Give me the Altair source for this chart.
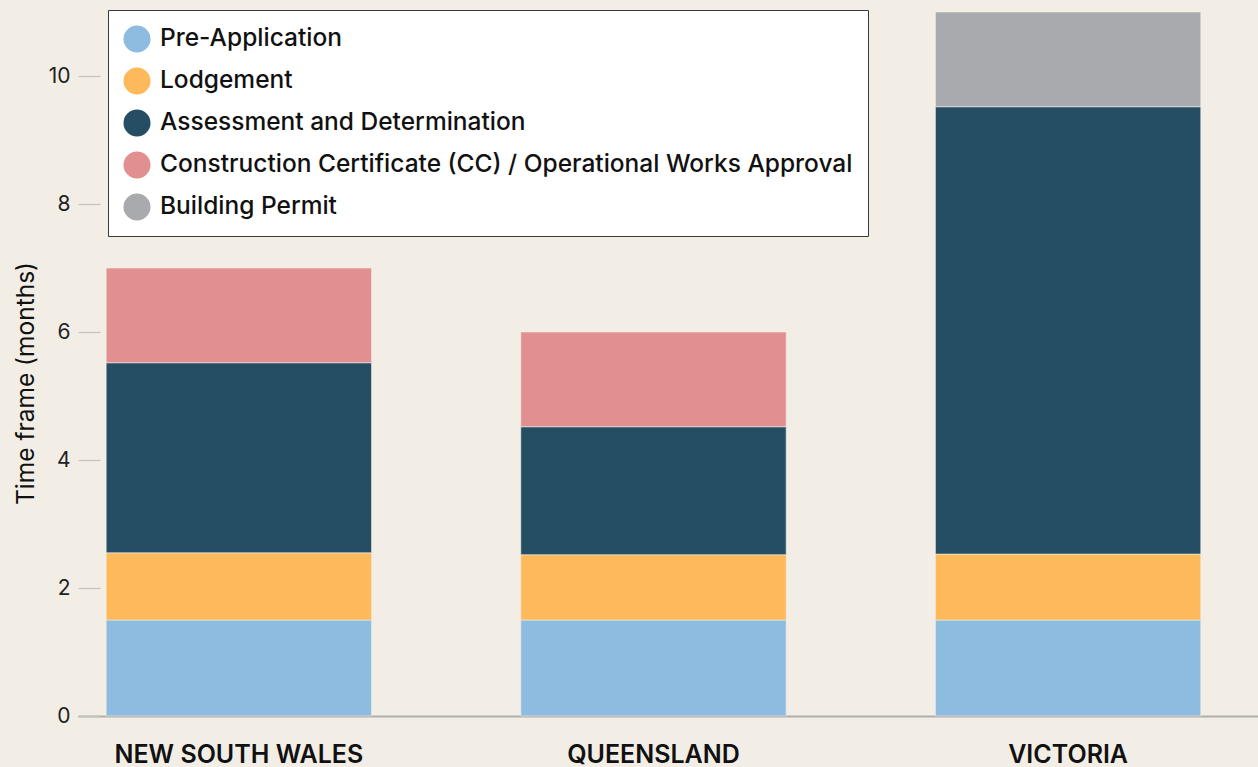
import altair as alt
import pandas as pd

states = ["NEW SOUTH WALES", "QUEENSLAND", "VICTORIA"]
stages = [
    "Pre-Application",
    "Lodgement",
    "Assessment and Determination",
    "Construction Certificate (CC) / Operational Works Approval",
    "Building Permit",
]
colors = ["#8ebbe0", "#fdb95a", "#254d63", "#e18f8f", "#a9aaad"]

nsw_values = [1.5, 1.05, 2.97, 1.48, 0.0]
qld_values = [1.5, 1.02, 2.0, 1.48, 0.0]
vic_values = [1.5, 1.03, 6.99, 0.0, 1.48]

rows = []
for st, vals in zip(states, [nsw_values, qld_values, vic_values]):
    for i, (stage, v) in enumerate(zip(stages, vals)):
        if v > 0:
            rows.append({"state": st, "stage": stage, "months": v, "order": i})
df = pd.DataFrame(rows)

FONT = "Inter"
BG = "#f2eee6"

bars = alt.Chart(df).mark_bar(stroke=BG, strokeWidth=0.6).encode(
    x=alt.X(
        "state:N",
        sort=states,
        title=None,
        scale=alt.Scale(paddingInner=0.36, paddingOuter=0.103, align=0.33),
        axis=alt.Axis(
            labelAngle=0,
            labelFont=FONT,
            labelFontSize=25,
            labelFontWeight=600,
            labelColor="#111111",
            labelPadding=26,
            labelLimit=0,
            ticks=False,
            domainColor="#b0adaa",
            domainWidth=2,
        ),
    ),
    y=alt.Y(
        "sum(months):Q",
        title="Time frame (months)",
        scale=alt.Scale(domain=[0, 11], nice=False),
        axis=alt.Axis(
            values=[0, 2, 4, 6, 8, 10],
            grid=False,
            domain=False,
            offset=-22,
            tickSize=22,
            tickColor="#c4c1bc",
            tickWidth=1.2,
            labelFont=FONT,
            labelFontSize=21,
            labelFontWeight=400,
            labelColor="#222222",
            labelPadding=8,
            titleFont=FONT,
            titleFontSize=24.5,
            titleFontWeight=400,
            titleColor="#111111",
            titlePadding=10,
            titleY=371,
        ),
    ),
    color=alt.Color(
        "stage:N",
        sort=stages,
        scale=alt.Scale(domain=stages, range=colors),
        legend=alt.Legend(
            title=None,
            orient="none",
            legendX=30,
            legendY=-2,
            fillColor="#ffffff",
            strokeColor="#3a3a3a",
            padding=15,
            symbolType="circle",
            symbolSize=730,
            symbolStrokeWidth=0,
            labelFont=FONT,
            labelFontSize=24.5,
            labelFontWeight=500,
            labelColor="#111111",
            labelOffset=9,
            rowPadding=14,
            labelLimit=900,
        ),
    ),
    order=alt.Order("order:Q", sort="ascending"),
)

chart = bars.properties(
    width=1180,
    height=704,
    background=BG,
    padding={"left": 78, "top": 12, "right": 0, "bottom": 51},
    autosize=alt.AutoSizeParams(type="none"),
).configure_view(stroke=None)

chart.save("out.html", embed_options={"renderer": "svg", "actions": False})
